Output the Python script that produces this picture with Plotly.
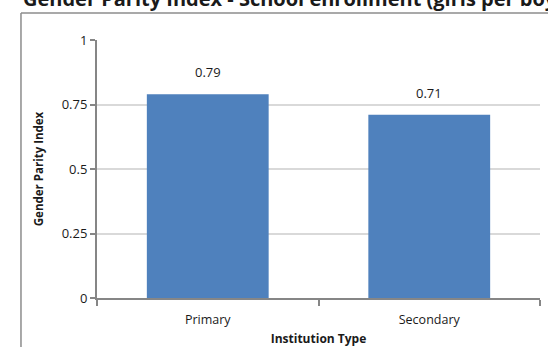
import plotly.graph_objects as go

# Gender Parity Index by institution type
institution_types = ["Primary", "Secondary"]
gpi_values = [0.79, 0.71]
y_tick_values = [0, 0.25, 0.5, 0.75, 1]
y_tick_labels = ["0", "0.25", "0.5", "0.75", "1"]

BAR_COLOR = "#4F81BD"
AXIS_COLOR = "#868686"
GRID_COLOR = "#D9D9D9"
TEXT_COLOR = "#1a1a1a"
FONT = "'Open Sans', Lato, sans-serif"

fig = go.Figure()
fig.add_trace(go.Bar(
    x=institution_types,
    y=gpi_values,
    marker=dict(color=BAR_COLOR, line=dict(width=0)),
    width=0.55,
    hoverinfo="x+y",
))

# value labels above each bar
for cat, val in zip(institution_types, gpi_values):
    fig.add_annotation(
        x=cat, y=val, xref="x", yref="y",
        text=f"{val:.2f}", showarrow=False,
        yanchor="bottom", yshift=11,
        font=dict(family=FONT, size=13, color=TEXT_COLOR),
    )

# outer chart frame (left and top edges)
fig.add_shape(type="line", xref="paper", yref="paper",
              x0=-0.1716, x1=-0.1716, y0=1.105, y1=-0.3,
              line=dict(color="#8C8C8C", width=1.5))
fig.add_shape(type="line", xref="paper", yref="paper",
              x0=-0.1716, x1=1.1, y0=1.105, y1=1.105,
              line=dict(color="#8C8C8C", width=1.5))

# chart title
fig.add_annotation(
    xref="paper", yref="paper", x=-0.171, y=1.162,
    xanchor="left", yanchor="middle", showarrow=False,
    text="<b>Gender Parity Index - School enrollment (girls per boy)</b>",
    font=dict(family=FONT, size=20, color=TEXT_COLOR),
)

fig.update_layout(
    width=548, height=347,
    margin=dict(l=97, r=8, t=40, b=49, autoexpand=False),
    paper_bgcolor="white", plot_bgcolor="white",
    showlegend=False,
    font=dict(family=FONT, size=12, color=TEXT_COLOR),
    xaxis=dict(
        automargin=False,
        showline=True, linecolor=AXIS_COLOR, linewidth=2,
        ticks="outside", tickson="boundaries", ticklen=6,
        tickcolor=AXIS_COLOR, tickwidth=2,
        showgrid=False,
        ticklabelstandoff=9,
        tickfont=dict(family=FONT, size=12.5, color=TEXT_COLOR),
        title=dict(text="<b>Institution Type</b>", standoff=10,
                   font=dict(family=FONT, size=12, color=TEXT_COLOR)),
    ),
    yaxis=dict(
        automargin=False,
        range=[0, 1],
        tickvals=y_tick_values, ticktext=y_tick_labels,
        showline=True, linecolor=AXIS_COLOR, linewidth=2,
        ticks="outside", ticklen=5, tickcolor=AXIS_COLOR, tickwidth=2,
        showgrid=True, gridcolor=GRID_COLOR, gridwidth=1.5,
        zeroline=False,
        tickfont=dict(family=FONT, size=13, color=TEXT_COLOR),
        title=dict(text="<b>Gender Parity Index</b>", standoff=16,
                   font=dict(family=FONT, size=11.5, color=TEXT_COLOR)),
    ),
)

fig.write_html("out.html")
